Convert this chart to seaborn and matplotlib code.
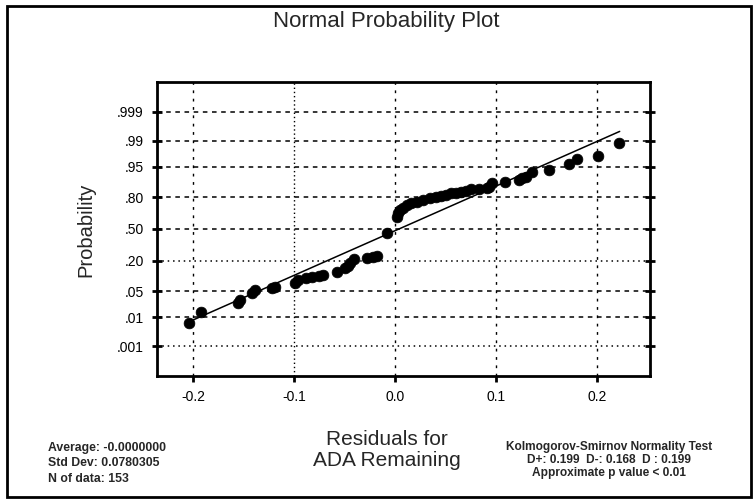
from statistics import NormalDist

import matplotlib.pyplot as plt
import seaborn as sns
import pandas as pd
from matplotlib.patches import Rectangle

# residuals and plotted probabilities
residual = [-0.204, -0.192, -0.156, -0.154, -0.142, -0.139, -0.122, -0.119,
            -0.099, -0.096, -0.089, -0.083, -0.076, -0.072, -0.058, -0.050,
            -0.047, -0.045, -0.041, -0.028, -0.022, -0.018, -0.008,
            0.002, 0.003, 0.005, 0.008, 0.011, 0.015, 0.021, 0.027, 0.034,
            0.040, 0.045, 0.050, 0.055, 0.060, 0.065, 0.070, 0.075, 0.083,
            0.091, 0.093, 0.096, 0.108, 0.122, 0.125, 0.129, 0.135, 0.152,
            0.172, 0.180, 0.201, 0.221]
probability = [0.0066, 0.0143, 0.0256, 0.0307, 0.0455, 0.0537, 0.060, 0.063,
               0.078, 0.0885, 0.097, 0.102, 0.1075, 0.113, 0.129, 0.1515,
               0.165, 0.184, 0.215, 0.2206, 0.230, 0.239, 0.456,
               0.62, 0.66, 0.691, 0.71, 0.736, 0.75, 0.761, 0.778, 0.794,
               0.80, 0.808, 0.818, 0.829, 0.832, 0.836, 0.845, 0.855, 0.855,
               0.862, 0.8665, 0.887, 0.8925, 0.9015, 0.91, 0.915, 0.933, 0.9406,
               0.957, 0.968, 0.973, 0.9884]

# fitted normal line (end points)
fit_x = [-0.205, 0.222]
fit_p = [0.007, 0.995]

prob_ticks = [0.001, 0.01, 0.05, 0.20, 0.50, 0.80, 0.95, 0.99, 0.999]
prob_labels = [".001", ".01", ".05", ".20", ".50", ".80", ".95", ".99", ".999"]
x_ticks = [-0.2, -0.1, 0.0, 0.1, 0.2]
x_labels = ["-0.2", "-0.1", "0.0", "0.1", "0.2"]

stats_left = ["Average: -0.0000000", "Std Dev: 0.0780305", "N of data: 153"]
stats_right = ["Kolmogorov-Smirnov Normality Test",
               "D+: 0.199  D-: 0.168  D : 0.199",
               "Approximate p value < 0.01"]

nd = NormalDist()
df = pd.DataFrame({"x": residual, "z": [nd.inv_cdf(p) for p in probability]})
line_df = pd.DataFrame({"x": fit_x, "z": [nd.inv_cdf(p) for p in fit_p]})

sns.set_theme(style="white")
plt.rcParams['font.family'] = ['Liberation Sans', 'DejaVu Sans']

W, H = 754, 500
fig = plt.figure(figsize=(W / 100, H / 100), dpi=100)
ax = fig.add_axes([157 / W, 1 - 376 / H, (650 - 157) / W, (376 - 82) / H])

# grid
for xv in x_ticks:
    ls = (0, (1, 2)) if xv == -0.1 else (0, (2, 4))
    ax.axvline(xv, color="black", lw=1, ls=ls, zorder=1)
for p in prob_ticks:
    ls = (0, (1, 2.5)) if p in (0.20, 0.001) else (0, (3, 3))
    ax.axhline(nd.inv_cdf(p), color="black", lw=1.1, ls=ls, zorder=1)

sns.lineplot(data=line_df, x="x", y="z", color="black", lw=1.1, ax=ax, zorder=2)
sns.scatterplot(data=df, x="x", y="z", color="black", edgecolor="black",
                s=60, linewidth=0.5, ax=ax, zorder=3)

ax.set_xlim(-0.236, 0.252)
ax.set_ylim(-3.88, 3.88)
ax.set_xticks(x_ticks)
ax.set_xticklabels(x_labels, fontsize=10)
ax.set_yticks([nd.inv_cdf(p) for p in prob_ticks])
ax.set_yticklabels(prob_labels, fontsize=10)
ax.set_xlabel("")
ax.set_ylabel("")
ax.tick_params(axis="x", bottom=True, direction="out", length=4, width=2, pad=6,
               colors="black")
ax.tick_params(axis="y", left=True, right=True, direction="inout", length=7, width=2,
               pad=6, colors="black")
for s in ax.spines.values():
    s.set_linewidth(2)
    s.set_color("black")

fig.text(386 / W, 1 - 21 / H, "Normal Probability Plot", ha="center", va="center", fontsize=16)
fig.text(86 / W, 1 - 230 / H, "Probability", ha="center", va="center", rotation=90,
         fontsize=14.5)
fig.text(387 / W, 1 - 450 / H, "Residuals for\nADA Remaining", ha="center", va="center",
         fontsize=15, linespacing=1.15)

for i, t in enumerate(stats_left):
    fig.text(48 / W, 1 - (448 + 15.5 * i) / H, t, ha="left", va="center", fontsize=8.8,
             fontweight="bold")
for i, t in enumerate(stats_right):
    fig.text(609 / W, 1 - (447 + 13 * i) / H, t, ha="center", va="center", fontsize=8.6,
             fontweight="bold")

fig.add_artist(Rectangle((7 / W, 3 / H), (751 - 7) / W, (494 - 3) / H, transform=fig.transFigure,
                         fill=False, lw=2, edgecolor="black"))

fig.savefig("out.png", dpi=100)
